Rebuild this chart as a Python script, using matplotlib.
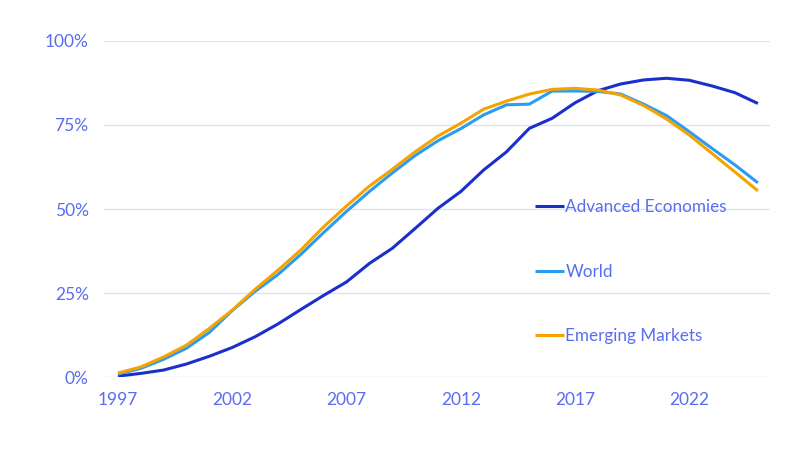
import matplotlib
matplotlib.use("Agg")
import matplotlib.pyplot as plt
from matplotlib.ticker import PercentFormatter

plt.rcParams['font.family'] = ['Lato', 'DejaVu Sans']

# ! Data (share, %)
years = list(range(1997, 2026))
advanced = [0.3, 1.1, 2.1, 3.9, 6.2, 8.8, 12.0, 15.8, 20.1, 24.3, 28.3, 33.8, 38.3, 44.2, 50.2,
            55.2, 61.6, 67.0, 74.0, 77.0, 81.6, 85.2, 87.2, 88.4, 88.9, 88.3, 86.6, 84.6, 81.4]
world = [0.9, 2.6, 5.3, 8.6, 13.3, 19.8, 25.5, 30.5, 36.5, 43.0, 49.3, 55.2, 60.7, 65.9, 70.3,
         73.9, 78.0, 81.0, 81.2, 85.1, 85.1, 85.0, 84.2, 81.2, 77.8, 73.0, 68.0, 63.1, 57.8]
emerging = [1.2, 3.0, 6.0, 9.5, 14.5, 19.9, 26.1, 31.8, 37.8, 44.7, 50.9, 56.8, 61.8, 67.0, 71.7,
            75.5, 79.7, 82.1, 84.2, 85.6, 85.9, 85.4, 83.9, 80.8, 76.8, 72.0, 66.5, 61.0, 55.4]
labels = ["Advanced Economies", "World", "Emerging Markets"]
colors = ["#1a2fcc", "#2b9cf2", "#f5a300"]
txt = "#5a6cf0"

fig = plt.figure(figsize=(8, 4.5), dpi=100)
ax = fig.add_axes([0.13, 0.162, 0.8325, 0.747])

for s, lab, c in zip([advanced, world, emerging], labels, colors):
    ax.plot(years, s, color=c, lw=2.2, label=lab, solid_capstyle='butt')

ax.set_xlim(1996.39, 2025.53)
ax.set_ylim(0, 100)
ax.set_xticks(range(1997, 2026, 5))
ax.set_yticks([0, 25, 50, 75, 100])
ax.yaxis.set_major_formatter(PercentFormatter(decimals=0))
ax.grid(axis='y', color='#dde3f3', lw=1)
ax.set_axisbelow(True)
for sp in ax.spines.values():
    sp.set_visible(False)
ax.tick_params(length=0, labelsize=12.5, colors=txt)
ax.tick_params(axis='y', pad=11)
ax.tick_params(axis='x', pad=11)

leg = ax.legend(loc='upper left', bbox_to_anchor=(0.6365, 0.55), frameon=False,
                fontsize=12.3, handlelength=1.7, handletextpad=0.1, labelspacing=2.85,
                borderaxespad=0)
for t in leg.get_texts():
    t.set_color(txt)

fig.savefig("out.png", dpi=100)
